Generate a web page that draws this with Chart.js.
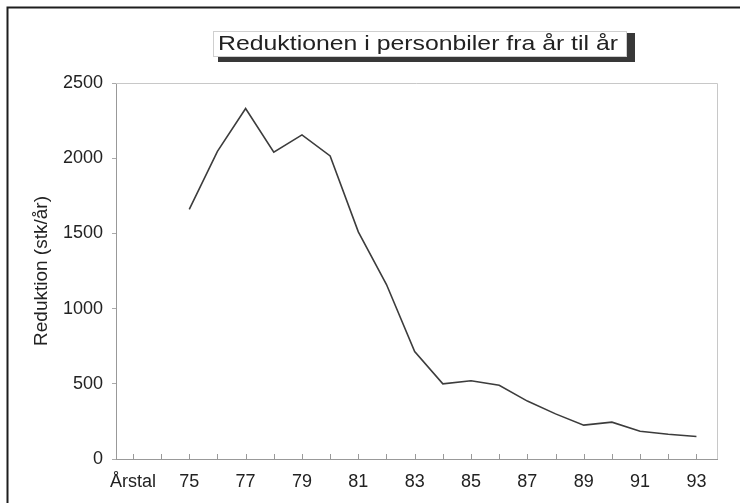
<!DOCTYPE html>
<html>
<head>
<meta charset="utf-8">
<script src="https://cdn.jsdelivr.net/npm/chart.js@4/dist/chart.umd.min.js"></script>
<style>
  html, body { margin: 0; padding: 0; background: #fff; }
  #wrap { width: 740px; height: 503px; position: relative; }
</style>
</head>
<body>
<div id="wrap"><canvas id="c" width="740" height="503"></canvas></div>
<script>
// ---- data ----
const years = [75, 76, 77, 78, 79, 80, 81, 82, 83, 84, 85, 86, 87, 88, 89, 90, 91, 92, 93];
const reduktion = [1660, 2045, 2330, 2040, 2155, 2015, 1510, 1160, 715, 500, 520, 490, 385, 300, 225, 245, 185, 165, 150];
const xTickValues = [73, 74, 75, 76, 77, 78, 79, 80, 81, 82, 83, 84, 85, 86, 87, 88, 89, 90, 91, 92, 93];
const xFirstLabel = 'Årstal';
const yTickValues = [0, 500, 1000, 1500, 2000, 2500];
const titleText = 'Reduktionen i personbiler fra år til år';
const yTitle = 'Reduktion (stk/år)';

const FONT = '"Liberation Sans", Arial, sans-serif';

const decor = {
  id: 'decor',
  beforeDraw(chart) {
    const ctx = chart.ctx;
    ctx.save();
    ctx.fillStyle = '#fff';
    ctx.fillRect(0, 0, chart.width, chart.height);
    // outer frame
    ctx.strokeStyle = '#1e1e1e';
    ctx.lineWidth = 2;
    ctx.beginPath();
    ctx.moveTo(7.5, chart.height);
    ctx.lineTo(7.5, 7.5);
    ctx.lineTo(chart.width, 7.5);
    ctx.stroke();
    // title box with shadow
    ctx.fillStyle = '#383838';
    ctx.fillRect(218, 33, 417, 29);
    ctx.fillStyle = '#fff';
    ctx.fillRect(213, 31, 414, 26);
    ctx.strokeStyle = '#cfcfcf';
    ctx.lineWidth = 1;
    ctx.strokeRect(213.5, 31.5, 413, 25);
    ctx.fillStyle = '#222';
    ctx.font = '21px ' + FONT;
    ctx.textAlign = 'center';
    ctx.textBaseline = 'middle';
    const w = ctx.measureText(titleText).width;
    ctx.translate(418, 44);
    ctx.scale(400 / w, 1);
    ctx.fillText(titleText, 0, 0);
    ctx.restore();
  },
  afterDraw(chart) {
    const ctx = chart.ctx;
    const a = chart.chartArea;
    const xs = chart.scales.x;
    ctx.save();
    // top and right plot border
    ctx.strokeStyle = '#c8c8c8';
    ctx.lineWidth = 1;
    ctx.beginPath();
    ctx.moveTo(a.left, a.top + 0.5);
    ctx.lineTo(a.right + 0.5, a.top + 0.5);
    ctx.lineTo(a.right + 0.5, a.bottom);
    ctx.stroke();
    // inward x ticks
    ctx.strokeStyle = '#999';
    ctx.beginPath();
    xTickValues.forEach(v => {
      const px = Math.round(xs.getPixelForValue(v)) + 0.5;
      ctx.moveTo(px, a.bottom);
      ctx.lineTo(px, a.bottom - 5);
    });
    ctx.stroke();
    ctx.restore();
  }
};

new Chart(document.getElementById('c'), {
  type: 'line',
  data: {
    datasets: [{
      data: years.map((y, i) => ({ x: y, y: reduktion[i] })),
      borderColor: '#3c3c3c',
      borderWidth: 1.6,
      pointRadius: 0,
      tension: 0,
      fill: false
    }]
  },
  options: {
    responsive: false,
    animation: false,
    events: [],
    layout: { padding: { left: 27, top: 83, right: 23, bottom: 0 } },
    plugins: { legend: { display: false }, title: { display: false }, tooltip: { enabled: false } },
    scales: {
      x: {
        type: 'linear',
        min: 72.4,
        max: 93.73,
        afterBuildTicks: s => { s.ticks = xTickValues.map(v => ({ value: v })); },
        afterFit: s => { s.height = 44; },
        grid: { display: true, drawOnChartArea: false, drawTicks: false },
        border: { color: '#999', width: 1 },
        ticks: {
          autoSkip: false,
          maxRotation: 0,
          padding: 12,
          color: '#222',
          font: { family: FONT, size: 18 },
          callback: v => (v === xTickValues[0] ? xFirstLabel : (v % 2 === 1 ? String(v) : ''))
        }
      },
      y: {
        min: 0,
        max: 2500,
        afterBuildTicks: s => { s.ticks = yTickValues.map(v => ({ value: v })); },
        afterFit: s => { s.width = 89; },
        grid: { drawOnChartArea: false, drawTicks: true, tickLength: 4, color: '#aaa' },
        border: { color: '#999', width: 1 },
        ticks: {
          padding: 9,
          color: '#222',
          font: { family: FONT, size: 18 },
          callback: v => String(v)
        },
        title: {
          display: true,
          text: yTitle,
          color: '#222',
          font: { family: FONT, size: 19 },
          padding: { top: 3, bottom: 4 }
        }
      }
    }
  },
  plugins: [decor]
});
</script>
</body>
</html>
